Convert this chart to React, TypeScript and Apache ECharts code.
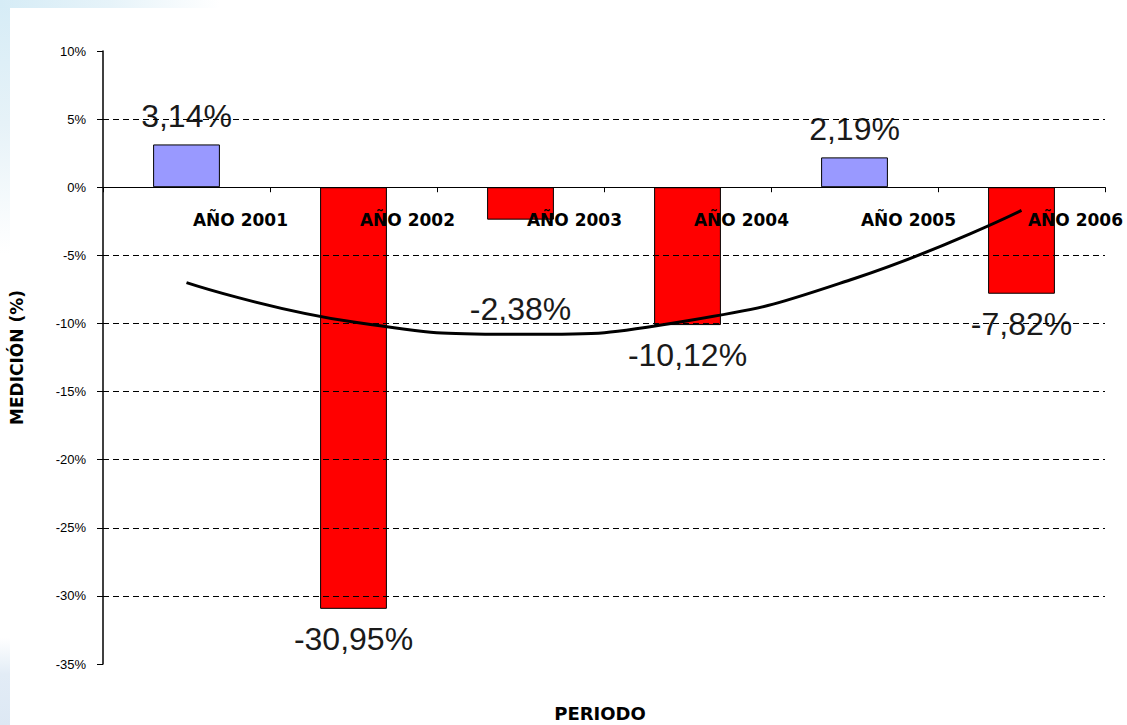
import React, { useEffect, useRef } from "react";
import * as echarts from "echarts";

const categories = ["AÑO 2001", "AÑO 2002", "AÑO 2003", "AÑO 2004", "AÑO 2005", "AÑO 2006"];
const values = [3.14, -30.95, -2.38, -10.12, 2.19, -7.82];
const labelTexts = ["3,14%", "-30,95%", "-2,38%", "-10,12%", "2,19%", "-7,82%"];
// polynomial trend line at each category centre
const trendValues = [-7.0, -9.9, -10.8, -9.8, -6.7, -1.7];
const gridValues = [5, -5, -10, -15, -20, -25, -30];
const yMin = -35;
const yMax = 10;
const yStep = 5;

const GRID_TOP = 51;
const GRID_BOTTOM = 61;
const H = 725;

export default function App() {
  const ref = useRef<HTMLDivElement>(null);
  useEffect(() => {
    if (!ref.current) return;
    const chart = echarts.init(ref.current, undefined, { renderer: "svg" });
    const plotH = H - GRID_TOP - GRID_BOTTOM;
    const zeroFromBottom = (0 - yMin) / (yMax - yMin) * plotH;
    const barData = values.map((v, i) => {
      const neg = v < 0;
      const extra = i === 2 ? 59 : 0;
      return {
        value: v,
        itemStyle: { color: neg ? "#FF0000" : "#9999FF", borderColor: "#000", borderWidth: 1 },
        label: {
          show: true,
          position: neg ? "bottom" : "top",
          distance: neg ? 14 : 12,
          offset: [0, extra],
          formatter: () => labelTexts[i],
          fontFamily: "Liberation Sans, Arial, sans-serif",
          fontSize: 32,
          color: "#1a1a1a",
        },
      };
    });
    chart.setOption({
      animation: false,
      backgroundColor: "#fff",
      graphic: [
        {
          type: "rect",
          shape: { x: 0, y: 0, width: 10, height: 725 },
          style: {
            fill: new echarts.graphic.LinearGradient(0, 0, 0, 1, [
              { offset: 0, color: "#d6ecf6" },
              { offset: 0.17, color: "#e6f2f8" },
              { offset: 0.35, color: "#ffffff" },
              { offset: 0.88, color: "#ffffff" },
              { offset: 0.93, color: "#e2ecf6" },
              { offset: 1, color: "#dde8f4" },
            ]),
          },
          silent: true,
        },
        {
          type: "rect",
          shape: { x: 0, y: 0, width: 220, height: 8 },
          style: {
            fill: new echarts.graphic.LinearGradient(0, 0, 1, 0, [
              { offset: 0, color: "#d6ecf6" },
              { offset: 0.5, color: "#e6f3f9" },
              { offset: 1, color: "#ffffff" },
            ]),
          },
          silent: true,
        },
        {
          type: "text",
          x: 600,
          y: 713,
          style: {
            text: "PERIODO",
            fontFamily: "DejaVu Sans, sans-serif",
            fontWeight: "bold",
            fontSize: 18,
            fill: "#000",
            align: "center",
            verticalAlign: "middle",
          },
        },
      ],
      grid: { left: 100, right: 22, top: GRID_TOP, bottom: GRID_BOTTOM, containLabel: false },
      xAxis: {
        type: "category",
        data: categories,
        position: "bottom",
        offset: -zeroFromBottom,
        z: 5,
        axisLine: { show: true, onZero: false, lineStyle: { color: "#000", width: 1 } },
        axisTick: { show: true, length: 5, interval: 0, alignWithLabel: false, lineStyle: { color: "#000" } },
        axisLabel: {
          interval: 0,
          margin: 24,
          padding: [0, 0, 0, 108],
          fontFamily: "DejaVu Sans, sans-serif",
          fontWeight: "bold",
          fontSize: 17,
          color: "#000",
        },
        splitLine: { show: false },
      },
      yAxis: {
        type: "value",
        min: yMin,
        max: yMax,
        interval: yStep,
        name: "MEDICIÓN (%)",
        nameLocation: "middle",
        nameRotate: 90,
        nameGap: 78,
        nameTextStyle: {
          fontFamily: "DejaVu Sans, sans-serif",
          fontWeight: "bold",
          fontSize: 17,
          color: "#000",
        },
        axisLine: { show: true, lineStyle: { color: "#000", width: 1.5 } },
        axisTick: { show: true, length: 6, inside: false, lineStyle: { color: "#000" } },
        axisLabel: {
          margin: 17,
          formatter: "{value}%",
          fontFamily: "Liberation Sans, Arial, sans-serif",
          fontSize: 13,
          color: "#000",
        },
        splitLine: { show: false },
      },
      series: [
        {
          type: "line",
          z: 1,
          data: categories.map(() => "-"),
          showSymbol: false,
          silent: true,
          markLine: {
            silent: true,
            symbol: "none",
            label: { show: false },
            lineStyle: { type: [6, 4], color: "#000", width: 1 },
            data: gridValues.map((v) => ({ yAxis: v })),
          },
        },
        {
          type: "bar",
          z: 2,
          barWidth: "40%",
          data: barData,
        },
        {
          type: "line",
          z: 4,
          data: trendValues,
          smooth: true,
          showSymbol: false,
          symbol: "none",
          lineStyle: { color: "#000", width: 3 },
          silent: true,
        },
      ],
    });
    return () => chart.dispose();
  }, []);
  return <div ref={ref} style={{ position: "absolute", left: 0, top: 0, width: 1127, height: 725 }} />;
}
